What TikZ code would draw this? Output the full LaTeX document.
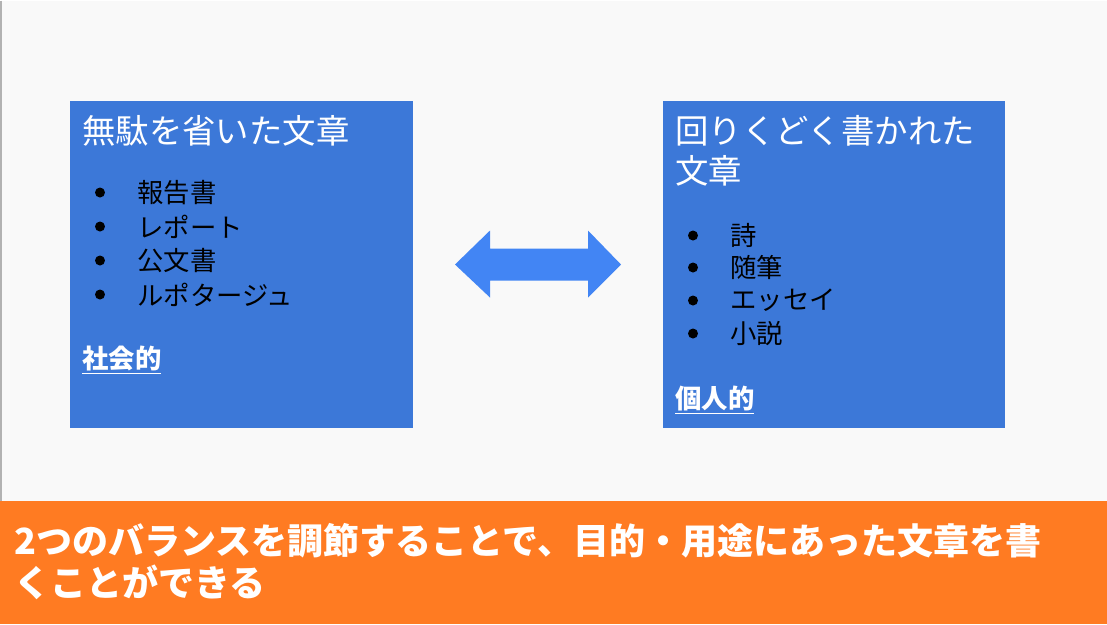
\documentclass[tikz,border=0pt]{standalone}
\usepackage{fontspec}
\setmainfont{Noto Sans CJK JP}
\usetikzlibrary{positioning}
\definecolor{pageback}{HTML}{F9F9F9}
\definecolor{boxblue}{HTML}{3C78D8}
\definecolor{arrowblue}{HTML}{4285F4}
\definecolor{barorange}{HTML}{FF7B22}
\tikzset{
  heading/.style={anchor=west,text=white,font=\fontsize{19}{22}\selectfont,inner sep=0pt},
  item/.style={anchor=west,font=\fontsize{15}{18}\selectfont,inner sep=0pt},
  dot/.style={circle,fill=black,inner sep=0pt,minimum size=0.2cm},
  tag/.style={anchor=west,text=white,font=\fontsize{15}{18}\selectfont\bfseries,inner sep=0pt},
  message/.style={anchor=west,text=white,font=\fontsize{20.5}{24}\selectfont\bfseries,inner sep=0pt}
}
\begin{document}
\begin{tikzpicture}[x=0.02cm,y=-0.02cm]
\fill[pageback] (0,0) rectangle (1107,623);
\draw[gray!60,line width=0.6pt] (1,0) -- (1,623);
\fill[boxblue] (70,100) rectangle (413,427);
\fill[boxblue] (663,100) rectangle (1005,427);
\fill[barorange] (0,500) rectangle (1107,623);
% double arrow
\fill[arrowblue] (455,264) -- (490,230) -- (490,248) -- (588,248) -- (588,230)
  -- (621,264) -- (588,297) -- (588,280) -- (490,280) -- (490,297) -- cycle;
% left box
\node[heading] (plainhead) at (82,130) {無駄を省いた文章};
\foreach \t [count=\i] in {報告書,レポート,公文書,ルポタージュ}{
  \node[dot] (ld\i) at (100,158+34*\i) {};
  \node[item] (lt\i) at (137,158+34*\i) {\t};
}
\node[tag] (social) at (82,360) {\underline{社会的}};
% right box
\node[heading] (richhead1) at (675,130) {回りくどく書かれた};
\node[heading] (richhead2) at (675,170) {文章};
\foreach \t/\y [count=\i] in {詩/235,随筆/267,エッセイ/300,小説/333}{
  \node[dot] (rd\i) at (693,\y) {};
  \node[item] (rt\i) at (730,\y) {\t};
}
\node[tag] (personal) at (675,400) {\underline{個人的}};
% bottom message
\node[message] (msg1) at (14,540) {2つのバランスを調節することで、目的・用途にあった文章を書};
\node[message] (msg2) at (14,582) {くことができる};
\end{tikzpicture}
\end{document}
